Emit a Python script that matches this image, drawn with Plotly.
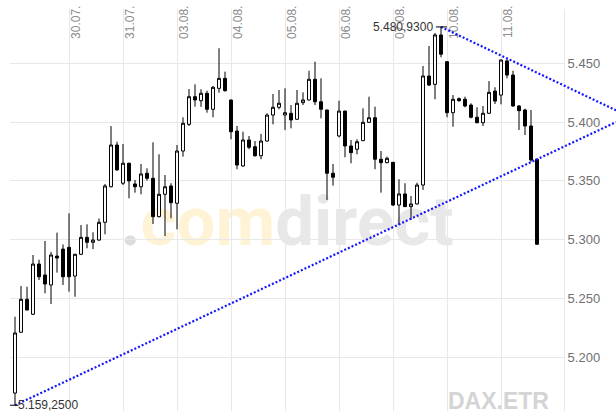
import plotly.graph_objects as go

# ---------------- data (hourly candles, 29.07. - 11.08.) ----------------
candle_idx = list(range(88))
opens = [5169.6, 5221.3, 5249.3, 5236.6, 5279.3, 5270.0, 5261.5, 5286.1, 5292.0,
         5293.5, 5269.1, 5287.6, 5302.0, 5297.8, 5299.7, 5314.8, 5345.0, 5380.5,
         5348.0, 5365.0, 5347.4, 5345.0, 5356.5, 5352.2, 5319.6, 5338.6, 5345.7,
         5331.0, 5375.4, 5398.1, 5421.6, 5418.2, 5424.5, 5410.9, 5428.7, 5437.2,
         5418.8, 5392.4, 5362.7, 5384.8, 5379.1, 5371.4, 5383.9, 5406.0, 5412.6,
         5406.0, 5407.5, 5402.4, 5416.5, 5418.8, 5436.4, 5417.3, 5410.3, 5356.5,
         5388.2, 5409.4, 5379.7, 5376.9, 5384.2, 5399.8, 5403.7, 5368.4, 5365.5,
         5365.8, 5329.5, 5338.9, 5328.1, 5330.4, 5346.5, 5439.2, 5432.1, 5474.1,
         5451.4, 5408.0, 5419.9, 5419.4, 5414.5, 5404.1, 5399.5, 5407.5, 5426.4,
         5423.0, 5452.0, 5440.0, 5413.7, 5410.3, 5396.7, 5368.4]
highs = [5234.5, 5260.6, 5260.0, 5287.0, 5283.0, 5298.9, 5289.6, 5306.0, 5296.0,
         5322.4, 5288.0, 5312.5, 5313.1, 5306.3, 5318.0, 5347.4, 5396.6, 5383.3,
         5381.4, 5365.5, 5350.8, 5364.4, 5360.7, 5382.8, 5372.6, 5355.0, 5348.0,
         5380.5, 5404.1, 5428.1, 5432.1, 5427.9, 5426.7, 5430.7, 5462.8, 5442.9,
         5419.0, 5396.7, 5391.8, 5388.2, 5383.9, 5389.9, 5407.5, 5423.9, 5427.3,
         5428.7, 5414.5, 5427.3, 5425.3, 5443.7, 5451.4, 5437.2, 5410.5, 5364.4,
         5418.2, 5409.6, 5384.8, 5385.4, 5411.7, 5421.6, 5413.1, 5375.4, 5370.6,
         5366.0, 5351.4, 5348.0, 5337.2, 5348.5, 5447.7, 5464.7, 5475.8, 5480.93,
         5451.6, 5423.0, 5421.0, 5421.6, 5416.0, 5412.6, 5413.7, 5434.9, 5429.6,
         5453.4, 5453.4, 5443.7, 5414.5, 5411.4, 5410.3, 5368.4]
lows = [5159.25, 5221.0, 5240.0, 5236.0, 5265.7, 5254.4, 5245.3, 5272.0, 5261.5,
        5255.8, 5251.5, 5287.0, 5292.7, 5292.0, 5299.0, 5304.6, 5344.5, 5358.7,
        5346.5, 5335.2, 5340.0, 5338.6, 5350.2, 5313.3, 5319.0, 5303.1, 5318.2,
        5308.8, 5370.6, 5396.7, 5413.1, 5413.0, 5408.0, 5404.1, 5425.0, 5425.9,
        5385.4, 5359.9, 5362.0, 5376.9, 5370.6, 5368.4, 5383.5, 5398.1, 5410.9,
        5393.3, 5394.7, 5402.0, 5414.5, 5418.5, 5414.5, 5403.2, 5333.8, 5346.0,
        5387.0, 5370.1, 5365.0, 5372.6, 5384.0, 5399.5, 5359.9, 5340.0, 5365.0,
        5328.7, 5312.5, 5328.0, 5317.0, 5330.0, 5342.3, 5430.7, 5419.4, 5455.1,
        5404.1, 5396.1, 5417.3, 5412.6, 5403.2, 5399.0, 5396.7, 5407.0, 5415.4,
        5415.1, 5437.2, 5413.1, 5393.3, 5389.0, 5366.3, 5296.1]
closes = [5220.7, 5249.3, 5240.2, 5279.3, 5268.5, 5262.3, 5287.0, 5284.4, 5268.5,
          5268.5, 5287.6, 5302.0, 5297.8, 5299.7, 5314.8, 5345.7, 5380.5, 5359.3,
          5365.0, 5350.0, 5345.0, 5355.9, 5352.2, 5319.6, 5338.6, 5345.0, 5331.5,
          5375.4, 5399.0, 5421.6, 5418.8, 5424.5, 5410.9, 5429.6, 5437.2, 5426.7,
          5391.8, 5363.5, 5384.8, 5378.6, 5371.4, 5383.9, 5406.0, 5412.6, 5416.0,
          5408.0, 5401.8, 5416.0, 5418.8, 5436.4, 5417.3, 5410.9, 5356.5, 5353.1,
          5409.4, 5379.7, 5374.0, 5383.3, 5399.8, 5403.7, 5368.4, 5365.5, 5369.2,
          5329.5, 5338.9, 5328.1, 5330.4, 5346.5, 5439.2, 5431.5, 5474.1, 5457.7,
          5408.0, 5419.4, 5418.2, 5413.7, 5404.1, 5399.5, 5407.5, 5425.3, 5417.9,
          5452.8, 5440.0, 5413.7, 5409.7, 5396.7, 5367.8, 5296.1]

day_ticks = [9, 18, 27, 36, 45, 54, 63, 72, 81]
day_labels = ['30.07.', '31.07.', '03.08.', '04.08.', '05.08.', '06.08.',
              '07.08.', '10.08.', '11.08.']
y_ticks = [5200, 5250, 5300, 5350, 5400, 5450]
hidden_tick = 5150

support_x = [0, 100.17]
support_y = [5159.25, 5400.0]
resist_x = [71, 100.17]
resist_y = [5480.93, 5410.0]

hi_idx, hi_val = 71, 5480.93
lo_idx, lo_val = 0, 5159.25

Y_RANGE = [5154.34, 5496.17]
X_MAIN = [-5 / 6, 91.5]
X_FULL = [-5 / 6, 100.167]


def de_num(v, dec):
    s = f"{v:,.{dec}f}"
    return s.replace(",", "X").replace(".", ",").replace("X", ".")


TICK_FONT = "Liberation Sans, Arial, sans-serif"

fig = go.Figure()

fig.add_trace(go.Candlestick(
    x=candle_idx, open=opens, high=highs, low=lows, close=closes,
    increasing=dict(line=dict(color="black", width=1), fillcolor="white"),
    decreasing=dict(line=dict(color="black", width=1), fillcolor="black"),
    whiskerwidth=0, showlegend=False, hoverinfo="skip",
    xaxis="x", yaxis="y",
))

for tx, ty in [(support_x, support_y), (resist_x, resist_y)]:
    fig.add_trace(go.Scatter(
        x=tx, y=ty, mode="lines", xaxis="x2", yaxis="y2",
        line=dict(color="rgb(20,20,255)", width=2.2, dash="2px,2px"),
        showlegend=False, hoverinfo="skip",
    ))

# watermark (below the data)
wm_font = "Liberation Sans Narrow, Roboto, Arial"
W = 606.0
H = 402.0


def px_x(p):
    return (p - 10) / W


def px_y(p):
    return (411 - p) / H


shapes = [dict(
    type="rect", xref="paper", yref="paper", layer="below",
    x0=px_x(122), x1=px_x(452), y0=px_y(235), y1=px_y(197),
    line=dict(width=0), fillcolor="rgba(0,0,0,0)",
    label=dict(text=("<b><span style='color:#dcdcdc'>.</span>"
                     "<span style='color:#fff3d6'>com</span>"
                     "<span style='color:#e8e8e8'>direct</span></b>"),
               textposition="middle center",
               font=dict(family=wm_font, size=69, color="#e8e8e8")),
)]

# high / low markers
shapes.append(dict(type="line", xref="x", yref="y", x0=hi_idx - 0.85, x1=hi_idx + 1.0,
                   y0=hi_val, y1=hi_val, line=dict(color="black", width=1)))
shapes.append(dict(type="line", xref="x", yref="y", x0=lo_idx - 0.85, x1=lo_idx + 0.6,
                   y0=lo_val, y1=lo_val, line=dict(color="black", width=1)))

annotations = [
    dict(x=hi_idx, y=hi_val, xref="x", yref="y", text=de_num(hi_val, 4),
         showarrow=False, xanchor="right", yanchor="middle", xshift=-6,
         font=dict(family=TICK_FONT, size=12, color="#333333")),
    dict(x=lo_idx, y=lo_val, xref="x", yref="y", text=de_num(lo_val, 4),
         showarrow=False, xanchor="left", yanchor="middle", xshift=1,
         font=dict(family=TICK_FONT, size=12, color="#333333")),
    dict(x=px_x(551), y=px_y(401), xref="paper", yref="paper", text="<b>DAX.ETR</b>",
         showarrow=False, xanchor="right", yanchor="middle",
         font=dict(family=TICK_FONT, size=23, color="#d4d4d4")),
    dict(x=px_x(567), y=px_y(416), xref="paper", yref="paper",
         text=de_num(hidden_tick, 0), showarrow=False, xanchor="left", yanchor="middle",
         font=dict(family=TICK_FONT, size=13, color="#707070")),
]

fig.update_layout(
    width=616, height=411,
    margin=dict(l=10, r=0, t=9, b=0),
    paper_bgcolor="white", plot_bgcolor="rgba(0,0,0,0)",
    showlegend=False, separators=",.", boxgap=0.3,
    xaxis=dict(domain=[0, 554 / 606], range=X_MAIN, side="top",
               tickmode="array", tickvals=day_ticks, ticktext=day_labels,
               tickangle=-90, ticklabelposition="inside", ticks="",
               ticklabelshift=7, ticklabelstandoff=-13,
               showgrid=True, gridcolor="#e8e8e8", gridwidth=1,
               zeroline=False, showline=False,
               rangeslider=dict(visible=False), fixedrange=True,
               tickfont=dict(family=TICK_FONT, size=12, color="#8c8c8c")),
    yaxis=dict(domain=[0, 1], range=Y_RANGE, side="right",
               tickmode="array", tickvals=y_ticks, tickformat=",.0f", ticks="",
               showgrid=True, gridcolor="#e8e8e8", gridwidth=1,
               zeroline=False, showline=True, linecolor="#e8e8e8", linewidth=1,
               fixedrange=True,
               tickfont=dict(family=TICK_FONT, size=13, color="#707070")),
    xaxis2=dict(domain=[0, 1], range=X_FULL, anchor="y2", visible=False,
                fixedrange=True),
    yaxis2=dict(domain=[0, 1], range=Y_RANGE, anchor="x2", visible=False,
                fixedrange=True),
    shapes=shapes, annotations=annotations,
)

fig.write_html(
    "out.html",
    config={"displayModeBar": False},
    post_script="document.body.style.margin='0';document.body.style.overflow='hidden';",
)
